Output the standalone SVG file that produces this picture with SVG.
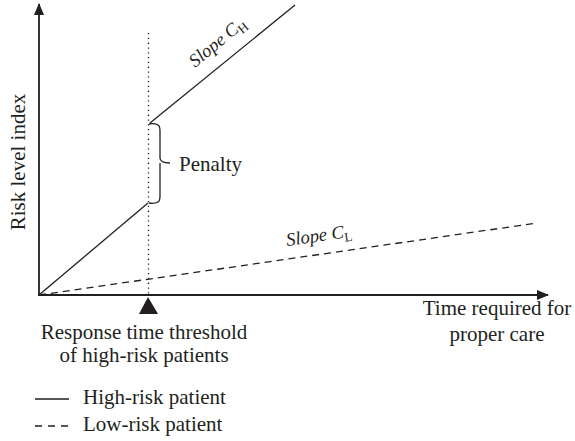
<svg xmlns="http://www.w3.org/2000/svg" width="575" height="441" viewBox="0 0 575 441">
<style>
.t{font-family:"Liberation Serif","Times New Roman",serif;font-size:21px;fill:#231f20}
.it{font-family:"Liberation Serif","Times New Roman",serif;font-size:18.5px;font-style:italic;fill:#231f20}
.sub{font-style:normal;font-size:13px}
.ln{stroke:#231f20;stroke-width:1.3;fill:none}
.ax{stroke:#231f20;stroke-width:1.8;fill:none}
.dash{stroke-dasharray:7 5}
</style>
<defs>
<marker id="arr" viewBox="0 0 12 10" refX="11" refY="5" markerWidth="12" markerHeight="10" markerUnits="userSpaceOnUse" orient="auto">
<path d="M0,0 L12,5 L0,10 Z" fill="#231f20"/>
</marker>
</defs>
<rect width="575" height="441" fill="#fff"/>
<g id="axes">
<line class="ax" x1="39" y1="295" x2="39" y2="4" marker-end="url(#arr)"/>
<line class="ax" x1="38" y1="295" x2="548" y2="295" marker-end="url(#arr)"/>
<text class="t" transform="translate(25,162) rotate(-90)" text-anchor="middle">Risk level index</text>
<text class="t" x="497" y="315" text-anchor="middle">Time required for</text>
<text class="t" x="497" y="341" text-anchor="middle">proper care</text>
</g>
<g id="threshold">
<line x1="148.5" y1="33" x2="148.5" y2="295" stroke="#231f20" stroke-width="1.3" stroke-dasharray="1.3 3.5"/>
<path d="M148,297 L139,314 L158,314 Z" fill="#231f20"/>
<text class="t" x="144" y="339" text-anchor="middle">Response time threshold</text>
<text class="t" x="144" y="362" text-anchor="middle">of high-risk patients</text>
</g>
<g id="connectors">
<polyline class="ln" points="39,295 148,203"/>
<polyline class="ln" points="150,123 295,5"/>
<line class="ln dash" x1="39" y1="295" x2="537" y2="223"/>
</g>
<g id="penalty">
<path class="ln" d="M149,124 Q154,123 158,125 Q160,126 160,131 L160,158 Q160,163 170,163 M160,163 Q160,163 160,168 L160,196 Q160,201 158,202 Q154,204 149,203"/>
<text class="t" x="179" y="171">Penalty</text>
</g>
<g id="slopeH">
<text class="it" transform="translate(195,68) rotate(-39.5)">Slope C<tspan class="sub" dy="4">H</tspan></text>
</g>
<g id="slopeL">
<text class="it" transform="translate(287,246) rotate(-8.1)">Slope C<tspan class="sub" dy="4">L</tspan></text>
</g>
<g id="legend">
<line class="ln" x1="35" y1="399" x2="69" y2="399"/>
<text class="t" x="83" y="404">High-risk patient</text>
<line class="ln" x1="35" y1="426" x2="69" y2="426" stroke-dasharray="7 6"/>
<text class="t" x="83" y="431">Low-risk patient</text>
</g>
</svg>
